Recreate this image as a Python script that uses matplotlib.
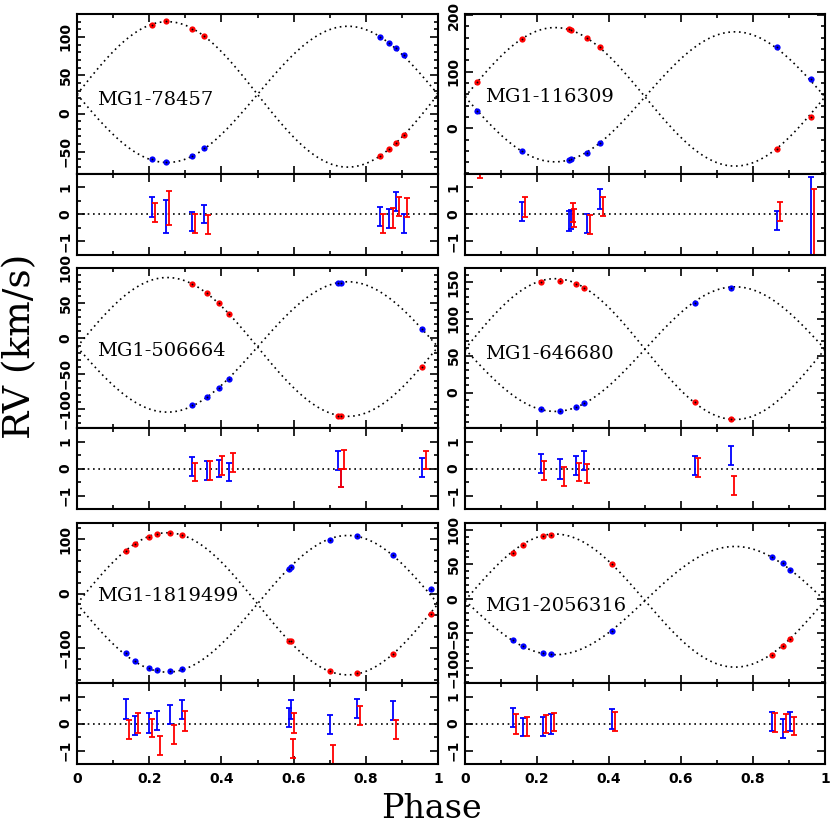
import numpy as np
import matplotlib
matplotlib.use("Agg")
import matplotlib.pyplot as plt
from matplotlib.ticker import MultipleLocator, FuncFormatter

# star names
names = ["MG1-78457", "MG1-116309", "MG1-506664", "MG1-646680", "MG1-1819499", "MG1-2056316"]

# MG1-78457
ph1 = [0.207, 0.246, 0.319, 0.353, 0.839, 0.865, 0.883, 0.906]
rv1_r = [116, 121, 111, 101, -55, -46, -39, -28]
rv1_b = [-59, -63, -55, -45, 100, 92, 86, 76]
res1_r = [0.07, 0.23, -0.33, -0.37, -0.35, -0.13, 0.30, 0.25]
err1_r = [0.35, 0.63, 0.36, 0.35, 0.35, 0.36, 0.36, 0.36]
res1_b = [0.27, -0.07, -0.25, 0.02, -0.09, -0.16, 0.47, -0.33]
err1_b = [0.36, 0.61, 0.35, 0.33, 0.35, 0.35, 0.35, 0.35]

# MG1-116309
ph2 = [0.033, 0.157, 0.290, 0.295, 0.338, 0.375, 0.866, 0.960]
rv2_r = [82, 157, 175, 174, 160, 144, -37, 19]
rv2_b = [30, -40, -56, -55, -43, -27, 143, 87]
res2_r = [1.70, 0.26, 0.08, -0.12, -0.38, 0.29, 0.12, -0.60]
err2_r = [0.35, 0.37, 0.36, 0.34, 0.36, 0.35, 0.36, 1.55]
res2_b = [-2.20, 0.10, -0.24, -0.20, -0.34, 0.58, -0.21, -0.60]
err2_b = [0.35, 0.35, 0.38, 0.35, 0.35, 0.36, 0.35, 2.00]

# MG1-506664
ph3 = [0.319, 0.360, 0.393, 0.422, 0.722, 0.731, 0.957]
rv3_r = [77, 64, 50.5, 35, -110, -110, -40]
rv3_b = [-94.5, -83, -70, -57, 79, 79, 13.6]
res3_r = [-0.13, -0.07, 0.12, 0.23, -0.36, 0.34, 0.31]
err3_r = [0.35, 0.35, 0.35, 0.36, 0.33, 0.34, 0.34]
res3_b = [0.06, -0.07, 0.00, -0.13, 0.28, -0.36, 0.03]
err3_b = [0.35, 0.35, 0.33, 0.35, 0.35, 0.33, 0.35]

# MG1-646680
ph4 = [0.211, 0.265, 0.307, 0.330, 0.639, 0.739]
rv4_r = [150, 152, 147, 141.6, -12.3, -35.6]
rv4_b = [-22, -24.7, -20, -14.6, 121.5, 142.5]
res4_r = [-0.07, -0.30, -0.13, -0.18, 0.05, -0.63]
err4_r = [0.35, 0.35, 0.35, 0.36, 0.35, 0.35]
res4_b = [0.18, -0.02, 0.12, 0.31, 0.10, 0.48]
err4_b = [0.35, 0.36, 0.35, 0.35, 0.35, 0.35]

# MG1-1819499
ph5 = [0.135, 0.161, 0.200, 0.222, 0.259, 0.291, 0.588, 0.592, 0.701, 0.775, 0.876, 0.981]
rv5_r = [78, 91, 105, 109, 112, 108.6, -88, -88, -143, -147, -112, -38]
rv5_b = [-110.5, -124, -137, -141, -143, -139.4, 46, 49, 99.5, 106, 70.5, 9]
res5_r = [-0.22, 0.02, -0.16, -0.80, -0.41, 0.10, -0.93, 0.02, -1.16, 0.31, -0.22, -2.4]
err5_r = [0.35, 0.36, 0.34, 0.35, 0.35, 0.36, 0.35, 0.36, 0.35, 0.35, 0.36, 0.35]
res5_b = [0.54, -0.08, 0.02, 0.10, 0.33, 0.52, 0.21, 0.53, -0.04, 0.56, 0.48, 2.4]
err5_b = [0.36, 0.36, 0.36, 0.35, 0.36, 0.36, 0.35, 0.35, 0.36, 0.35, 0.36, 0.35]

# MG1-2056316
ph6 = [0.132, 0.162, 0.217, 0.239, 0.408, 0.852, 0.883, 0.904]
rv6_r = [66.6, 78, 91, 93, 50.7, -80.7, -68.6, -58.5]
rv6_b = [-59.5, -68.6, -79, -80, -46, 61.3, 51.6, 42.5]
res6_r = [-0.02, -0.10, -0.03, 0.06, 0.08, 0.04, 0.03, -0.09]
err6_r = [0.36, 0.35, 0.34, 0.34, 0.35, 0.35, 0.34, 0.34]
res6_b = [0.21, -0.13, -0.10, -0.02, 0.17, 0.09, -0.19, 0.06]
err6_b = [0.35, 0.35, 0.35, 0.36, 0.36, 0.35, 0.35, 0.35]

# orbit fits: systemic velocity, K of red and blue component
gamma = [25, 55.5, -12, 59, -19, -2.5]
k_red = [95, 122.5, 98.5, 95.5, 131, 96.5]
k_blue = [89, 115, 92.5, 84.5, 126, 78.5]

ylims = [(-79, 130), (-81, 202), (-127, 100), (-48, 169), (-165, 130), (-122, 110)]
ymajor = [50, 100, 50, 50, 100, 50]
yminor = [10, 20, 10, 10, 20, 10]
name_y = [0.46, 0.48, 0.48, 0.46, 0.545, 0.48]

stars = [
    (ph1, rv1_r, rv1_b, res1_r, err1_r, res1_b, err1_b),
    (ph2, rv2_r, rv2_b, res2_r, err2_r, res2_b, err2_b),
    (ph3, rv3_r, rv3_b, res3_r, err3_r, res3_b, err3_b),
    (ph4, rv4_r, rv4_b, res4_r, err4_r, res4_b, err4_b),
    (ph5, rv5_r, rv5_b, res5_r, err5_r, res5_b, err5_b),
    (ph6, rv6_r, rv6_b, res6_r, err6_r, res6_b, err6_b),
]

W, H = 830, 824
fig = plt.figure(figsize=(W / 100, H / 100), dpi=100)

col_x = [(77, 361), (465, 360)]
row_y = [(14, 174, 255), (268, 428, 509), (523, 683, 764)]
dots = (0, (1, 2.2))
tickfont = dict(family="DejaVu Sans", weight="bold", size=10)


def fmt(v, pos):
    s = "%g" % v
    return s.replace("-", "\u2212")


def style(ax, show_x):
    for sp in ax.spines.values():
        sp.set_linewidth(1.5)
    ax.tick_params(which="both", direction="in", top=True, right=True, width=1.2)
    ax.tick_params(which="major", length=6)
    ax.tick_params(which="minor", length=3)
    ax.tick_params(axis="x", labelbottom=show_x, pad=6)
    ax.tick_params(axis="y", pad=3)
    ax.xaxis.set_major_locator(MultipleLocator(0.2))
    ax.xaxis.set_minor_locator(MultipleLocator(0.1))
    ax.xaxis.set_major_formatter(FuncFormatter(fmt))
    ax.yaxis.set_major_formatter(FuncFormatter(fmt))
    for lab in ax.get_xticklabels() + ax.get_yticklabels():
        lab.set_fontproperties(matplotlib.font_manager.FontProperties(**tickfont))
    for lab in ax.get_yticklabels():
        lab.set_rotation(90)
        lab.set_va("center")
    ax.set_xlim(0, 1)


grid = np.linspace(0, 1, 500)
for i, (ph, rvr, rvb, rr, er, rb, eb) in enumerate(stars):
    cx, cw = col_x[i % 2]
    top, mid, bot = row_y[i // 2]
    ax = fig.add_axes([cx / W, 1 - mid / H, cw / W, (mid - top) / H])
    axr = fig.add_axes([cx / W, 1 - bot / H, cw / W, (bot - mid) / H])

    ph = np.array(ph)
    ax.plot(grid, gamma[i] + k_red[i] * np.sin(2 * np.pi * grid), color="black", lw=1.2, ls=dots)
    ax.plot(grid, gamma[i] - k_blue[i] * np.sin(2 * np.pi * grid), color="black", lw=1.2, ls=dots)
    ax.plot(ph, rvr, "o", color="#ff0000", ms=4.5, mew=0)
    ax.plot(ph, rvb, "o", color="#0000ff", ms=4.5, mew=0)
    ax.plot(ph, rvr, "o", color="black", ms=1.3, mew=0)
    ax.plot(ph, rvb, "o", color="black", ms=1.3, mew=0)
    ax.set_ylim(*ylims[i])
    ax.yaxis.set_major_locator(MultipleLocator(ymajor[i]))
    ax.yaxis.set_minor_locator(MultipleLocator(yminor[i]))
    ax.text(0.055, name_y[i], names[i], transform=ax.transAxes, ha="left", va="center",
            family="DejaVu Serif", fontsize=14)
    style(ax, False)

    axr.axhline(0, color="black", lw=1.2, ls=dots)
    axr.errorbar(ph, rb, yerr=eb, fmt="none", ecolor="#0000ff", elinewidth=1.3, capsize=2.3, capthick=1.3)
    axr.errorbar(ph + 0.009, rr, yerr=er, fmt="none", ecolor="#ff0000", elinewidth=1.3, capsize=2.3, capthick=1.3)
    axr.set_ylim(-1.5, 1.5)
    axr.yaxis.set_major_locator(MultipleLocator(1))
    axr.yaxis.set_minor_locator(MultipleLocator(0.5))
    style(axr, i >= 4)

fig.text(20 / W, 1 - 346 / H, "RV (km/s)", rotation=90, ha="center", va="center",
         family="DejaVu Serif", fontsize=27)
fig.text(431 / W, 1 - 818 / H, "Phase", ha="center", va="baseline",
         family="DejaVu Serif", fontsize=24)

fig.savefig("out.png", dpi=100)
